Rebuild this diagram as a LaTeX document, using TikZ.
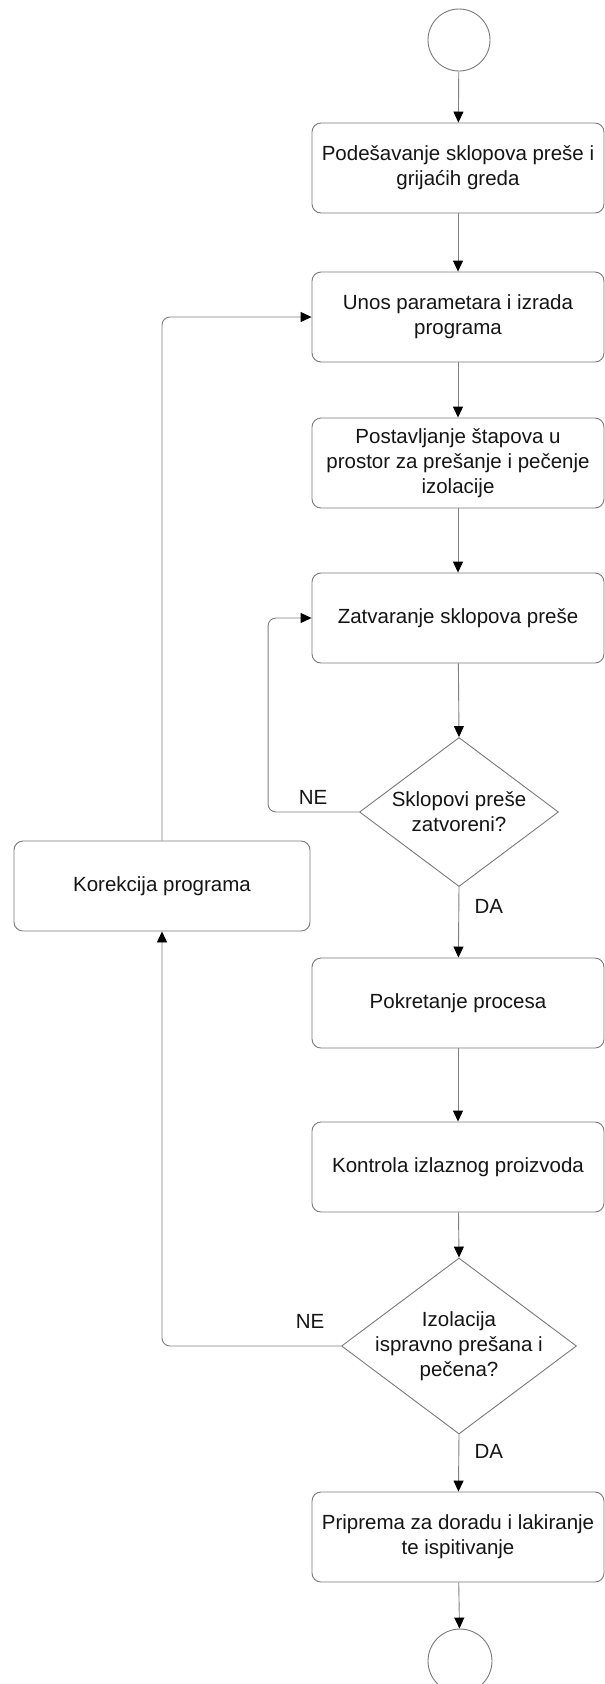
\documentclass[tikz,border=0pt]{standalone}
\usepackage{fontspec}
\setmainfont{Liberation Sans}
\usetikzlibrary{arrows.meta,shapes.geometric,calc}
\definecolor{linegray}{HTML}{808080}
\definecolor{boxgray}{HTML}{7A7A7A}
\definecolor{txtcol}{HTML}{151515}
\begin{document}
\begin{tikzpicture}[x=1pt,y=-1pt,
  txt/.style={text=txtcol, font=\fontsize{20.5pt}{25pt}\selectfont, align=center},
  stepbox/.style={txt, draw=boxgray, line width=0.9pt, rounded corners=9pt, minimum width=292pt, minimum height=90pt, inner sep=0pt},
  term/.style={circle, draw=boxgray, line width=0.9pt, inner sep=0pt},
  dia/.style={diamond, draw=boxgray, line width=0.9pt, inner sep=0pt},
  arr/.style={draw=linegray, line width=0.9pt, -{Triangle[length=11pt,width=10pt,color=black]}},
  lbl/.style={txt}
]
\fill[white] (0,0) rectangle (605,1684);
\useasboundingbox (0,0) rectangle (605,1684);

\node[term, minimum size=62pt] (s) at (459,40) {};
\node[stepbox] (b1) at (458,168) {Podešavanje sklopova preše i\\grijaćih greda};
\node[stepbox] (b2) at (458,317) {Unos parametara i izrada\\programa};
\node[stepbox] (b3) at (458,463) {Postavljanje štapova u\\prostor za prešanje i pečenje\\izolacije};
\node[stepbox] (b4) at (458,618) {Zatvaranje sklopova preše};
\node[dia, minimum width=199pt, minimum height=149pt,
      label={[txt]center:Sklopovi preše\\zatvoreni?}] (d1) at (459,812) {};
\node[stepbox] (b5) at (458,1003) {Pokretanje procesa};
\node[stepbox] (b6) at (458,1167) {Kontrola izlaznog proizvoda};
\node[dia, minimum width=235pt, minimum height=176pt,
      label={[txt]center:Izolacija\\ispravno prešana i\\pečena?}] (d2) at (459,1346) {};
\node[stepbox] (b7) at (458,1537) {Priprema za doradu i lakiranje\\te ispitivanje};
\node[term, minimum size=64pt] (e) at (460,1661) {};
\node[stepbox, minimum width=296pt] (k) at (162,886) {Korekcija programa};

\draw[arr] (s) -- (b1);
\draw[arr] (b1) -- (b2);
\draw[arr] (b2) -- (b3);
\draw[arr] (b3) -- (b4);
\draw[arr] (b4) -- (d1.north);
\draw[arr] (d1.south) -- node[lbl, right=12pt, pos=0.28] (da1) {DA} (b5);
\draw[arr] (b5) -- (b6);
\draw[arr] (b6) -- (d2.north);
\draw[arr] (d2.south) -- node[lbl, right=12pt, pos=0.3] (da2) {DA} (b7);
\draw[arr] (b7) -- (e);

\draw[arr, rounded corners=8pt] (d1.west) -- ++(-91,0) |- (b4.west);
\node[lbl] (ne1) at (313,797) {NE};
\draw[arr, rounded corners=8pt] (d2.west) -| (k.south);
\node[lbl] (ne2) at (310,1321) {NE};
\draw[arr, rounded corners=8pt] (k.north) |- (b2.west);
\end{tikzpicture}
\end{document}
